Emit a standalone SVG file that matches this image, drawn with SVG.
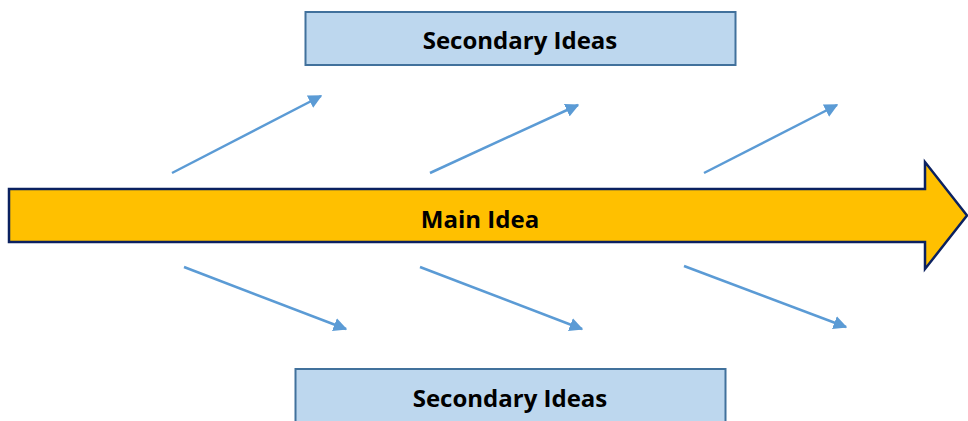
<svg xmlns="http://www.w3.org/2000/svg" width="968" height="421" viewBox="0 0 968 421">
<defs>
<marker id="ah" viewBox="0 0 10 10" refX="9" refY="5" markerWidth="5.5" markerHeight="5.5" orient="auto" markerUnits="strokeWidth">
<path d="M0,0 L10,5 L0,10 z" fill="#5B9BD5"/>
</marker>
<style>
.box{fill:#BDD7EE;stroke:#41719C;stroke-width:2}
.lbl{font-family:"Open Sans","Liberation Sans",sans-serif;font-weight:bold;font-size:24px;fill:#000;text-anchor:middle}
.con{stroke:#5B9BD5;stroke-width:2.5;fill:none;marker-end:url(#ah)}
</style>
</defs>
<rect width="968" height="421" fill="#fff"/>
<g id="main-idea">
<path d="M9,189 H925 V162 L967,215.5 L925,269 V242 H9 Z" fill="#FFC000" stroke="#0B2160" stroke-width="2.5"/>
<text class="lbl" x="480" y="228">Main Idea</text>
</g>
<g id="secondary-top">
<rect class="box" x="305.5" y="12" width="430" height="53"/>
<text class="lbl" x="520" y="49">Secondary Ideas</text>
</g>
<g id="secondary-bottom">
<rect class="box" x="295.5" y="369" width="430" height="60"/>
<text class="lbl" x="510" y="407">Secondary Ideas</text>
</g>
<g id="connectors">
<line class="con" x1="172" y1="173" x2="321" y2="96"/>
<line class="con" x1="430" y1="173" x2="578" y2="105"/>
<line class="con" x1="704" y1="173" x2="837" y2="105"/>
<line class="con" x1="184" y1="267" x2="346" y2="329"/>
<line class="con" x1="420" y1="267" x2="582" y2="329"/>
<line class="con" x1="684" y1="266" x2="846" y2="327"/>
</g>
</svg>
